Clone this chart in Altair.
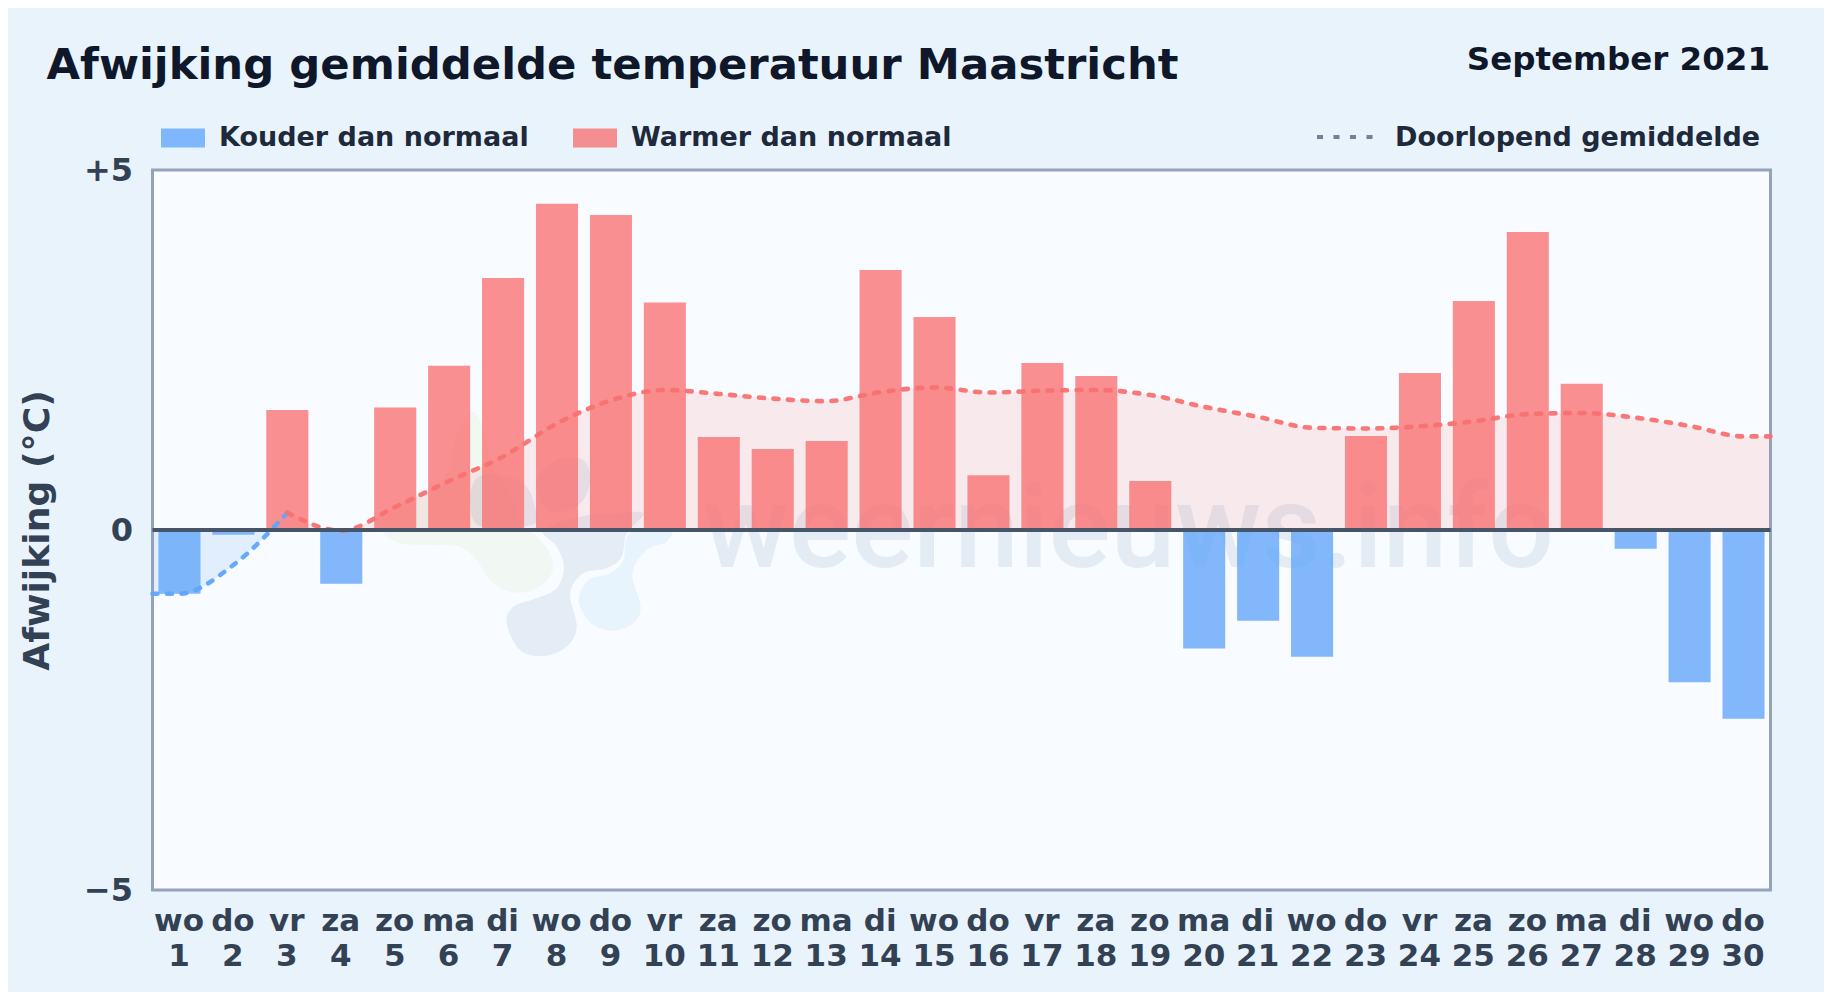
import altair as alt
import pandas as pd

DAYS = ["wo","do","vr","za","zo","ma","di","wo","do","vr","za","zo","ma","di","wo","do","vr","za","zo","ma","di","wo","do","vr","za","zo","ma","di","wo","do"]
DAY_NUMS = list(range(1, 31))
ANOMALY = [-0.885,-0.065,1.667,-0.745,1.70,2.28,3.50,4.53,4.375,3.16,1.29,1.125,1.235,3.61,2.96,0.76,2.32,2.14,0.68,-1.645,-1.26,-1.76,1.305,2.18,3.18,4.14,2.03,-0.26,-2.115,-2.62]
BLUE_X = [0.5,1,2,3]
BLUE_Y = [-0.885,-0.885,-0.486,0.24]
RED_X = [3,4,5,6,7,8,9,10,11,12,13,14,15,16,17,18,19,20,21,22,23,24,25,26,27,28,29,30,30.5]
RED_Y = [0.24,-0.01,0.32,0.68,1.02,1.48,1.80,1.945,1.89,1.825,1.79,1.915,1.98,1.91,1.935,1.945,1.875,1.71,1.57,1.42,1.41,1.44,1.51,1.61,1.625,1.56,1.445,1.30,1.30]
KINDS = ["Kouder dan normaal", "Warmer dan normaal"]
BAR_HALF = 0.39

FONT = "DejaVu Sans"
PL, PT, PW, PH = 152.5, 170, 1618, 720

# watermark shapes: traced outlines (zoom-crop coordinates of the reference)
GREEN = [(10,395),(60,430),(150,435),(240,440),(290,480),(330,540),(390,575),(460,570),(515,520),(510,460),(470,410),(420,370),(400,300),(340,200),(300,60),(270,40),(230,100),(200,220),(110,290),(20,340)]
DARK1 = [(380,670),(400,620),(470,595),(530,565),(552,500),(530,440),(490,390),(600,350),(700,340),(790,340),(740,400),(725,470),(680,505),(610,520),(570,580),(590,680),(560,740),(490,768),(420,750)]
DARK2 = [(270,300),(290,235),(350,225),(430,250),(465,320),(455,375),(300,378)]
DARK3 = [(470,240),(530,180),(610,180),(630,250),(590,320),(500,330)]
LIGHT = [(597,590),(625,540),(690,520),(730,480),(750,400),(870,385),(860,425),(800,450),(757,520),(782,620),(760,670),(700,692),(640,675),(605,630)]


def blob(points, R=400.0):
    """closed Catmull-Rom outline as a unit-square symbol path around (540, 400)."""
    p = [((x - 540) / R, (y - 400) / R) for x, y in points]
    n = len(p)
    d = f"M{p[0][0]:.4f},{p[0][1]:.4f}"
    for i in range(n):
        p0, p1, p2, p3 = p[i - 1], p[i], p[(i + 1) % n], p[(i + 2) % n]
        c1 = (p1[0] + (p2[0] - p0[0]) / 6, p1[1] + (p2[1] - p0[1]) / 6)
        c2 = (p2[0] - (p3[0] - p1[0]) / 6, p2[1] - (p3[1] - p1[1]) / 6)
        d += f"C{c1[0]:.4f},{c1[1]:.4f} {c2[0]:.4f},{c2[1]:.4f} {p2[0]:.4f},{p2[1]:.4f}"
    return d + "Z"


bars = pd.DataFrame({"day": DAY_NUMS, "value": ANOMALY})
bars["x0"] = bars["day"] - BAR_HALF
bars["x1"] = bars["day"] + BAR_HALF
bars["zero"] = 0.0
bars["kind"] = [KINDS[0] if v < 0 else KINDS[1] for v in ANOMALY]
blue = pd.DataFrame({"day": BLUE_X, "value": BLUE_Y, "zero": 0.0})
red = pd.DataFrame({"day": RED_X, "value": RED_Y, "zero": 0.0})

x_scale = alt.Scale(domain=[0.5, 30.5], nice=False, zero=False)
y_scale = alt.Scale(domain=[-5, 5], nice=False)
days_js = "[" + ",".join(f"'{d}'" for d in DAYS) + "]"

x_axis = alt.Axis(
    values=DAY_NUMS, title=None, grid=False, domain=False, ticks=False,
    labelExpr=f"[{days_js}[datum.value-1], ''+datum.value]",
    labelFont=FONT, labelFontWeight="bold", labelFontSize=31, labelColor="#334155",
    labelLineHeight=35, labelPadding=16, labelOverlap=False, labelBound=False,
    labelFlush=False, labelAngle=0, labelAlign="center", labelOffset=-1,
)
y_axis = alt.Axis(
    values=[-5, 0, 5], title="Afwijking (°C)", grid=False, domain=False, ticks=False,
    labelExpr="datum.value > 0 ? '+' + datum.value : datum.value < 0 ? '−' + abs(datum.value) : '0'",
    labelFont=FONT, labelFontWeight="bold", labelFontSize=32, labelColor="#334155",
    labelPadding=20, labelBound=False, labelFlush=False,
    titleFont=FONT, titleFontWeight="bold", titleFontSize=36.2, titleColor="#334155",
    titlePadding=27,
)

X = alt.X("day:Q", scale=x_scale, axis=x_axis)
Y = alt.Y("value:Q", scale=y_scale, axis=y_axis)

area_blue = alt.Chart(blue).mark_area(color="#60a5fa", opacity=0.15, interpolate="monotone").encode(
    x=X, y=Y, y2="zero:Q")
area_red = alt.Chart(red).mark_area(color="#f87171", opacity=0.13, interpolate="monotone").encode(
    x=X, y=Y, y2="zero:Q")

bar = alt.Chart(bars).mark_rect(opacity=0.78).encode(
    x=alt.X("x0:Q", scale=x_scale, axis=x_axis),
    x2="x1:Q",
    y=Y,
    y2="zero:Q",
    color=alt.Color("kind:N", scale=alt.Scale(domain=KINDS, range=["#60a5fa", "#f87171"]),
        legend=alt.Legend(
            title=None, orient="none", legendX=162 - PL - 1, legendY=116 - PT, direction="horizontal",
            columns=2, symbolType="M-1,-0.43H1V0.43H-1Z", symbolSize=1936, symbolStrokeWidth=0,
            labelFont=FONT, labelFontWeight="bold", labelFontSize=27, labelColor="#1e293b",
            labelOffset=14, columnPadding=44, labelLimit=500,
        )),
)

LINE = dict(strokeWidth=4.6, strokeDash=[5, 9.5], strokeCap="round", interpolate="monotone", opacity=0.95)
line_blue = alt.Chart(blue).mark_line(color="#60a5fa", **LINE).encode(x=X, y=Y)
line_red = alt.Chart(red).mark_line(color="#f87171", **LINE).encode(x=X, y=Y)

zero = alt.Chart(pd.DataFrame({"value": [0]})).mark_rule(color="#475569", strokeWidth=4).encode(y=Y)

one = pd.DataFrame({"a": [1]})


def wm_blob(points, colour, alpha):
    # crop point (540,400) is page (560, 533.3); crop is 3x, so R=400 is 133.3 px
    return alt.Chart(one).mark_point(filled=True, shape=blob(points), color=colour, opacity=alpha, strokeWidth=0).encode(
        x=alt.value(380 + 540 / 3 - PL), y=alt.value(400 + 400 / 3 - PT), size=alt.value((2 * 400 / 3) ** 2))


wm_shapes = [
    wm_blob(GREEN, "#a3c85a", 0.08),
    wm_blob(DARK1, "#1e5a8f", 0.09),
    wm_blob(DARK2, "#1e5a8f", 0.09),
    wm_blob(DARK3, "#1e5a8f", 0.09),
    wm_blob(LIGHT, "#38a0e8", 0.08),
]
wm_text = alt.Chart(one).mark_text(text="weernieuws.info", font="Roboto", fontWeight=500, fontSize=116, align="left", baseline="alphabetic", color="#1e5a8f", opacity=0.09).encode(
    x=alt.value(703 - PL), y=alt.value(567 - PT))

title = alt.Chart(one).mark_text(text="Afwijking gemiddelde temperatuur Maastricht", font=FONT, fontWeight="bold", fontSize=43.35, align="left", baseline="alphabetic", color="#0f172a").encode(
    x=alt.value(46.5 - PL), y=alt.value(79 - PT))
month = alt.Chart(one).mark_text(text="September 2021", font=FONT, fontWeight="bold", fontSize=32.5, align="right", baseline="alphabetic", color="#0f172a").encode(
    x=alt.value(1770 - PL), y=alt.value(70 - PT))
dots = alt.Chart(one).mark_rule(color="#64748b", strokeWidth=4, strokeDash=[6, 10.5], opacity=0.9).encode(
    x=alt.value(1317 - PL), x2=alt.value(1373 - PL), y=alt.value(137 - PT))
dots_label = alt.Chart(one).mark_text(text="Doorlopend gemiddelde", font=FONT, fontWeight="bold", fontSize=27, align="left", baseline="middle", color="#1e293b").encode(
    x=alt.value(1395 - PL), y=alt.value(138 - PT))

chart = alt.layer(
    *wm_shapes, wm_text, area_blue, area_red, bar, line_blue, line_red, zero, title, month, dots, dots_label
).resolve_scale(
    x="shared", y="shared"
).properties(
    width=PW, height=PH,
    background="#e9f3fc",
    padding={"left": PL - 8, "top": PT - 8, "right": 1824 - PL - PW, "bottom": 984 + 8 - PT - PH},
    autosize=alt.AutoSizeParams(type="none"),
).configure_view(fill="#f8fbff", stroke="#94a3b8", strokeWidth=3)

chart.save("out.html", embed_options={"renderer": "svg", "actions": False})
